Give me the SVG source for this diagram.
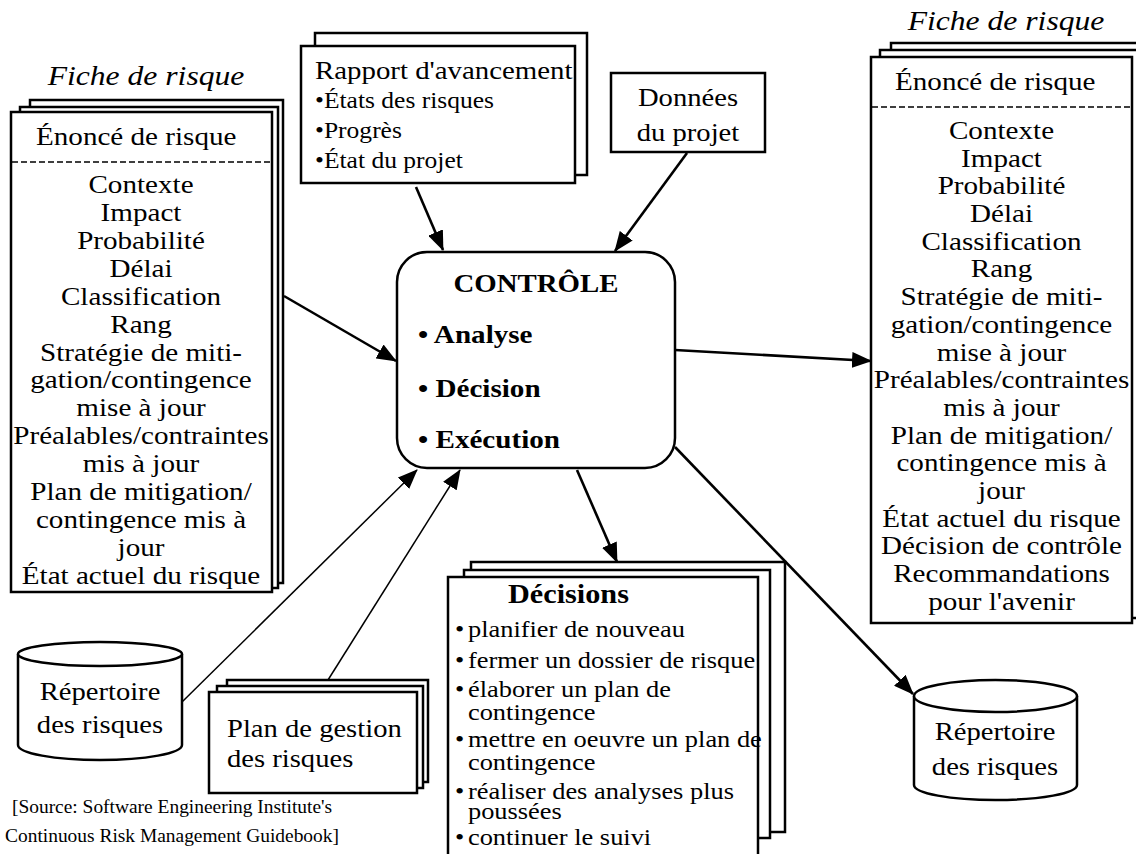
<svg xmlns="http://www.w3.org/2000/svg" width="1136" height="854" viewBox="0 0 1136 854">
  <style>
    .sheet { fill: #fff; stroke: #000; stroke-width: 2.5; }
    .dash { stroke: #000; stroke-width: 1.5; stroke-dasharray: 6 3; fill: none; }
    .t { font-family: "Liberation Serif", "Times New Roman", serif; font-size: 26px; fill: #000; }
    .c { text-anchor: middle; }
    .it { font-style: italic; font-size: 28px; }
    .b { font-weight: bold; }
    .s23 { font-size: 23px; }
    .s24 { font-size: 24px; }
    .src { font-size: 18px; text-anchor: middle; }
    .conn { stroke: #000; fill: none; }
    .heavy { stroke-width: 2.6; }
    .light { stroke-width: 1.5; }
  </style>
  <defs>
    <marker id="arrow" viewBox="0 0 20 16" refX="19" refY="8" markerWidth="20" markerHeight="16" orient="auto" markerUnits="userSpaceOnUse">
      <path d="M0,0 L20,8 L0,16 z" fill="#000"/>
    </marker>
  </defs>

  <rect width="1136" height="854" fill="#fff"/>

  <!-- left risk sheet (stack of three pages) -->
  <g id="fiche-gauche">
    <g transform="translate(146 0) scale(1.13 1)">
      <text class="t it c" x="0" y="85">Fiche de risque</text>
    </g>
    <rect class="sheet" x="30" y="100" width="253" height="483"/>
    <rect class="sheet" x="20" y="107" width="258" height="481"/>
    <rect class="sheet" x="11" y="112" width="261" height="480"/>
    <g transform="translate(36 0) scale(1.12 1)">
      <text class="t" x="0" y="145">Énoncé de risque</text>
    </g>
    <line class="dash" x1="12" y1="162" x2="271" y2="162"/>
    <g transform="translate(141 0) scale(1.12 1)">
      <text class="t c" x="0" y="193">Contexte</text>
      <text class="t c" x="0" y="220.9">Impact</text>
      <text class="t c" x="0" y="248.9">Probabilité</text>
      <text class="t c" x="0" y="276.8">Délai</text>
      <text class="t c" x="0" y="304.7">Classification</text>
      <text class="t c" x="0" y="332.7">Rang</text>
      <text class="t c" x="0" y="360.6">Stratégie de miti-</text>
      <text class="t c" x="0" y="388.5">gation/contingence</text>
      <text class="t c" x="0" y="416.4">mise à jour</text>
      <text class="t c" x="0" y="444.4">Préalables/contraintes</text>
      <text class="t c" x="0" y="472.3">mis à jour</text>
      <text class="t c" x="0" y="500.2">Plan de mitigation/</text>
      <text class="t c" x="0" y="528.2">contingence mis à</text>
      <text class="t c" x="0" y="556.1">jour</text>
      <text class="t c" x="0" y="584">État actuel du risque</text>
    </g>
  </g>

  <!-- progress report (two pages) -->
  <g id="rapport">
    <rect class="sheet" x="315" y="33" width="272" height="142"/>
    <rect class="sheet" x="301" y="46" width="274" height="137"/>
    <g transform="translate(315 0) scale(1.11 1)">
      <text class="t" x="0" y="79">Rapport d'avancement</text>
      <text class="t s23" x="0" y="108">•États des risques</text>
      <text class="t s23" x="0" y="138">•Progrès</text>
      <text class="t s23" x="0" y="168">•État du projet</text>
    </g>
  </g>

  <!-- project data -->
  <g id="donnees">
    <rect class="sheet" x="611" y="73" width="154" height="79"/>
    <g transform="translate(688 0) scale(1.1 1)">
      <text class="t c" x="0" y="106">Données</text>
      <text class="t c" x="0" y="141">du projet</text>
    </g>
  </g>

  <!-- central control process -->
  <g id="controle">
    <rect class="sheet" x="397" y="252" width="278" height="216" rx="30" ry="30"/>
    <g transform="translate(536 0) scale(1.11 1)">
      <text class="t b c" x="0" y="292">CONTRÔLE</text>
    </g>
    <g transform="translate(418 0) scale(1.12 1)">
      <text class="t b" x="0" y="343">• Analyse</text>
      <text class="t b" x="0" y="397">• Décision</text>
      <text class="t b" x="0" y="448">• Exécution</text>
    </g>
  </g>

  <!-- right risk sheet (updated) -->
  <g id="fiche-droite">
    <g transform="translate(1006 0) scale(1.13 1)">
      <text class="t it c" x="0" y="30">Fiche de risque</text>
    </g>
    <rect class="sheet" x="891" y="43" width="260" height="570"/>
    <rect class="sheet" x="880" y="50" width="262" height="568"/>
    <rect class="sheet" x="871" y="57" width="261" height="566"/>
    <g transform="translate(895 0) scale(1.12 1)">
      <text class="t" x="0" y="90">Énoncé de risque</text>
    </g>
    <line class="dash" x1="872" y1="107" x2="1131" y2="107"/>
    <g transform="translate(1001.5 0) scale(1.12 1)">
      <text class="t c" x="0" y="139">Contexte</text>
      <text class="t c" x="0" y="166.7">Impact</text>
      <text class="t c" x="0" y="194.4">Probabilité</text>
      <text class="t c" x="0" y="222.1">Délai</text>
      <text class="t c" x="0" y="249.8">Classification</text>
      <text class="t c" x="0" y="277.5">Rang</text>
      <text class="t c" x="0" y="305.2">Stratégie de miti-</text>
      <text class="t c" x="0" y="332.9">gation/contingence</text>
      <text class="t c" x="0" y="360.6">mise à jour</text>
      <text class="t c" x="0" y="388.3">Préalables/contraintes</text>
      <text class="t c" x="0" y="416">mis à jour</text>
      <text class="t c" x="0" y="443.7">Plan de mitigation/</text>
      <text class="t c" x="0" y="471.4">contingence mis à</text>
      <text class="t c" x="0" y="499.1">jour</text>
      <text class="t c" x="0" y="526.8">État actuel du risque</text>
      <text class="t c" x="0" y="554.5">Décision de contrôle</text>
      <text class="t c" x="0" y="582.2">Recommandations</text>
      <text class="t c" x="0" y="609.9">pour l'avenir</text>
    </g>
  </g>

  <!-- decisions (stack of three pages) -->
  <g id="decisions">
    <rect class="sheet" x="471" y="562" width="314" height="270"/>
    <rect class="sheet" x="464" y="570" width="306" height="268"/>
    <rect class="sheet" x="448" y="577" width="310" height="300"/>
    <g transform="translate(508 0) scale(1.12 1)">
      <text class="t b" x="0" y="603" style="font-size:27px">Décisions</text>
    </g>
    <g transform="translate(455 0) scale(1.1 1)">
      <text class="t s24" x="0" y="637">•</text>
      <text class="t s24" x="11.8" y="637">planifier de nouveau</text>
      <text class="t s24" x="0" y="668">•</text>
      <text class="t s24" x="11.8" y="668">fermer un dossier de risque</text>
      <text class="t s24" x="0" y="697">•</text>
      <text class="t s24" x="11.8" y="697">élaborer un plan de</text>
      <text class="t s24" x="11.8" y="720">contingence</text>
      <text class="t s24" x="0" y="747">•</text>
      <text class="t s24" x="11.8" y="747">mettre en oeuvre un plan de</text>
      <text class="t s24" x="11.8" y="770">contingence</text>
      <text class="t s24" x="0" y="799">•</text>
      <text class="t s24" x="11.8" y="799">réaliser des analyses plus</text>
      <text class="t s24" x="11.8" y="819">poussées</text>
      <text class="t s24" x="0" y="845">•</text>
      <text class="t s24" x="11.8" y="845">continuer le suivi</text>
    </g>
  </g>

  <!-- risk repository (input) -->
  <g id="repertoire-gauche">
    <path class="sheet" d="M18,654 L18,745 A82,15 0 0 0 182,745 L182,654"/>
    <ellipse class="sheet" cx="100" cy="654" rx="82" ry="12"/>
    <g transform="translate(100 0) scale(1.1 1)">
      <text class="t c" x="0" y="700">Répertoire</text>
      <text class="t c" x="0" y="733">des risques</text>
    </g>
  </g>

  <!-- risk management plan (stack of three pages) -->
  <g id="plan-gestion">
    <rect class="sheet" x="227" y="680" width="201" height="102"/>
    <rect class="sheet" x="217" y="686" width="206" height="102"/>
    <rect class="sheet" x="209" y="692" width="208" height="101"/>
    <g transform="translate(227 0) scale(1.1 1)">
      <text class="t" x="0" y="737">Plan de gestion</text>
      <text class="t" x="0" y="767">des risques</text>
    </g>
  </g>

  <!-- risk repository (output) -->
  <g id="repertoire-droite">
    <path class="sheet" d="M914,696 L914,785 A81.5,15 0 0 0 1077,785 L1077,696"/>
    <ellipse class="sheet" cx="995.5" cy="696" rx="81.5" ry="16"/>
    <g transform="translate(995 0) scale(1.1 1)">
      <text class="t c" x="0" y="740">Répertoire</text>
      <text class="t c" x="0" y="775">des risques</text>
    </g>
  </g>

  <!-- source note -->
  <g id="source">
    <g transform="translate(172 0) scale(1.08 1)">
      <text class="t src" x="0" y="813">[Source: Software Engineering Institute's</text>
      <text class="t src" x="0" y="842">Continuous Risk Management Guidebook]</text>
    </g>
  </g>

  <!-- connectors -->
  <g id="connecteurs">
    <line class="conn heavy" x1="416" y1="187" x2="443" y2="250" marker-end="url(#arrow)"/>
    <line class="conn heavy" x1="687" y1="153" x2="615" y2="251" marker-end="url(#arrow)"/>
    <line class="conn heavy" x1="284" y1="296" x2="396" y2="361" marker-end="url(#arrow)"/>
    <line class="conn heavy" x1="675" y1="350" x2="871" y2="361" marker-end="url(#arrow)"/>
    <line class="conn heavy" x1="577" y1="470" x2="617" y2="562" marker-end="url(#arrow)"/>
    <line class="conn heavy" x1="675" y1="447" x2="913" y2="694" marker-end="url(#arrow)"/>
    <line class="conn light" x1="182" y1="702" x2="417" y2="470" marker-end="url(#arrow)"/>
    <line class="conn light" x1="328" y1="680" x2="460" y2="470" marker-end="url(#arrow)"/>
  </g>
</svg>
